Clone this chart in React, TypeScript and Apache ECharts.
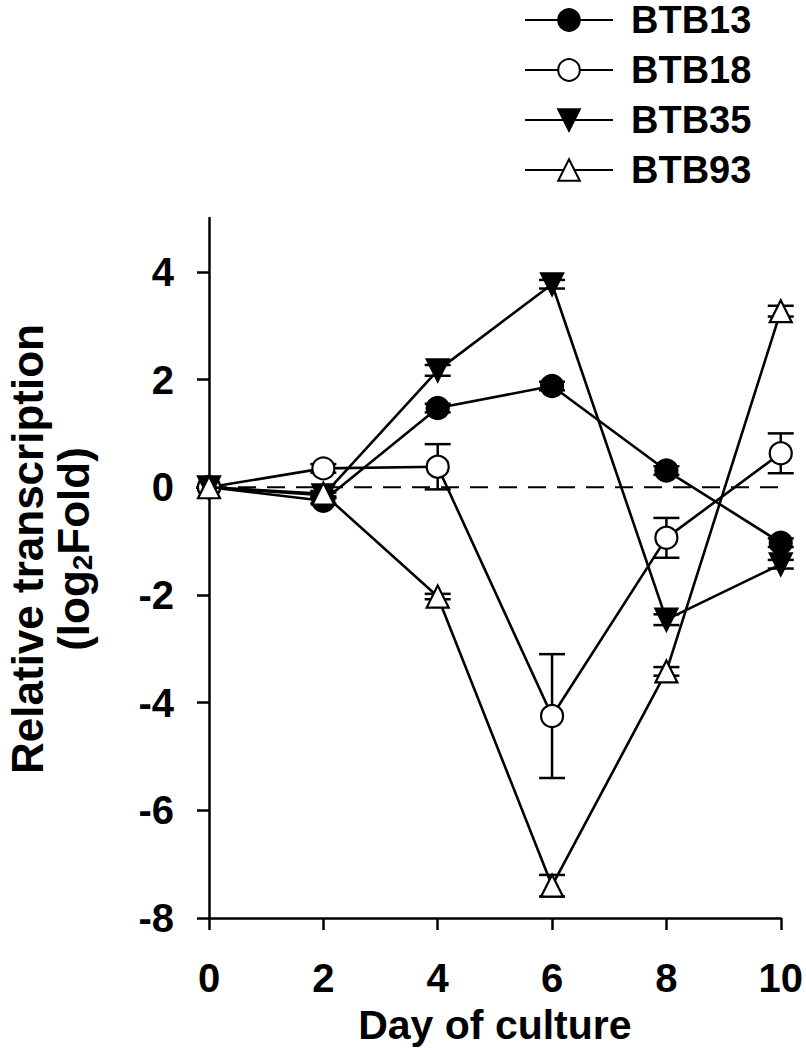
import React, { useEffect, useRef } from "react";
import * as echarts from "echarts";

const days = [0, 2, 4, 6, 8, 10];
const seriesNames = ["BTB13", "BTB18", "BTB35", "BTB93"];
const btb13 = [0, -0.25, 1.47, 1.88, 0.31, -1.03];
const btb18 = [0, 0.35, 0.38, -4.25, -0.94, 0.63];
const btb35 = [0, -0.15, 2.17, 3.77, -2.46, -1.43];
const btb93 = [0, -0.12, -2.03, -7.4, -3.42, 3.27];
const err13 = [0, 0.05, 0.08, 0.08, 0.08, 0.08];
const err18 = [0, 0.08, 0.42, 1.15, 0.37, 0.37];
const err35 = [0, 0.05, 0.1, 0.08, 0.1, 0.08];
const err93 = [0, 0.05, 0.05, 0.2, 0.08, 0.1];
const yTicks = [-8, -6, -4, -2, 0, 2, 4];
const xTitle = "Day of culture";
const yTitle1 = "Relative transcription";

const FONT = "'Liberation Sans', Arial, sans-serif";

export default function App() {
  const ref = useRef<HTMLDivElement>(null);
  useEffect(() => {
    if (!ref.current) return;
    const chart = echarts.init(ref.current, null, { renderer: "svg" });
    const values = [btb13, btb18, btb35, btb93];
    const errs = [err13, err18, err35, err93];
    const symbols = [
      "circle",
      "circle",
      "path://M0,0 L10,0 L5,10 Z",
      "triangle",
    ];
    const fills = ["#000", "#fff", "#000", "#fff"];

    const errSeries = values.map((vals, i) => ({
      type: "custom",
      name: seriesNames[i] + " err",
      z: 1,
      silent: true,
      data: days.map((d, j) => [d, vals[j], errs[i][j]]),
      renderItem: (params: any, api: any) => {
        const x = api.value(0);
        const y = api.value(1);
        const e = api.value(2);
        const top = api.coord([x, y + e]);
        const bot = api.coord([x, y - e]);
        const hw = 13;
        const st = { stroke: "#000", lineWidth: 2.5 };
        return {
          type: "group",
          children: [
            { type: "line", shape: { x1: top[0], y1: top[1], x2: bot[0], y2: bot[1] }, style: st },
            { type: "line", shape: { x1: top[0] - hw, y1: top[1], x2: top[0] + hw, y2: top[1] }, style: st },
            { type: "line", shape: { x1: bot[0] - hw, y1: bot[1], x2: bot[0] + hw, y2: bot[1] }, style: st },
          ],
        };
      },
    }));

    const lineSeries = values.map((vals, i) => ({
      type: "line",
      name: seriesNames[i],
      z: 3 + i,
      data: days.map((d, j) => [d, vals[j]]),
      symbol: symbols[i],
      symbolSize: 22,
      showAllSymbol: true,
      lineStyle: { color: "#000", width: 2.6 },
      itemStyle: { color: fills[i], borderColor: "#000", borderWidth: 2.2, opacity: 1 },
      emphasis: { disabled: true },
    }));

    const zeroLine = {
      type: "line",
      name: "zero",
      z: 2,
      data: [
        [0, 0],
        [10, 0],
      ],
      symbol: "none",
      lineStyle: { color: "#000", width: 2, type: [18, 11] },
      silent: true,
    };

    chart.setOption({
      animation: false,
      backgroundColor: "#fff",
      textStyle: { fontFamily: FONT },
      grid: { left: 209, right: 22, top: 218, bottom: 132, containLabel: false },
      legend: {
        data: seriesNames,
        orient: "vertical",
        left: 519,
        top: -4,
        itemWidth: 88,
        itemHeight: 27,
        itemGap: 12,
        selectedMode: false,
        textStyle: {
          fontFamily: FONT,
          fontSize: 38,
          fontWeight: "bold",
          color: "#000",
          lineHeight: 34,
          padding: [0, 0, 0, 13],
        },
      },
      xAxis: {
        type: "value",
        min: 0,
        max: 10,
        interval: 2,
        name: xTitle,
        nameLocation: "middle",
        nameGap: 86,
        nameTextStyle: { fontFamily: FONT, fontSize: 41, fontWeight: "bold", color: "#000" },
        axisLine: { onZero: false, lineStyle: { color: "#000", width: 2.5 } },
        axisTick: { length: 12, lineStyle: { color: "#000", width: 2.5 } },
        axisLabel: { margin: 40, fontFamily: FONT, fontSize: 40, fontWeight: "bold", color: "#000" },
        splitLine: { show: false },
      },
      yAxis: {
        type: "value",
        min: -8,
        max: 5,
        interval: 2,
        axisLine: { show: true, onZero: false, lineStyle: { color: "#000", width: 2.5 } },
        axisTick: { show: true, length: 12, customValues: yTicks, lineStyle: { color: "#000", width: 2.5 } },
        axisLabel: {
          margin: 35,
          customValues: yTicks,
          fontFamily: FONT,
          fontSize: 40,
          fontWeight: "bold",
          color: "#000",
        },
        splitLine: { show: false },
      },
      graphic: [
        {
          type: "text",
          x: 50,
          y: 549,
          rotation: Math.PI / 2,
          style: {
            text: "{a|" + yTitle1 + "}\n{a|(log}{s|2}{a|Fold)}",
            align: "center",
            verticalAlign: "middle",
            fill: "#000",
            rich: {
              a: { fontFamily: FONT, fontSize: 44, fontWeight: "bold", lineHeight: 46, fill: "#000" },
              s: {
                fontFamily: FONT,
                fontSize: 28,
                fontWeight: "bold",
                lineHeight: 46,
                verticalAlign: "bottom",
                padding: [20, 0, 0, 0],
                fill: "#000",
              },
            },
          },
        },
      ],
      series: [zeroLine, ...errSeries, ...lineSeries],
    });
    return () => chart.dispose();
  }, []);
  return (
    <div
      ref={ref}
      style={{ position: "fixed", left: 0, top: 0, width: 806, height: 1050, background: "#fff" }}
    />
  );
}
